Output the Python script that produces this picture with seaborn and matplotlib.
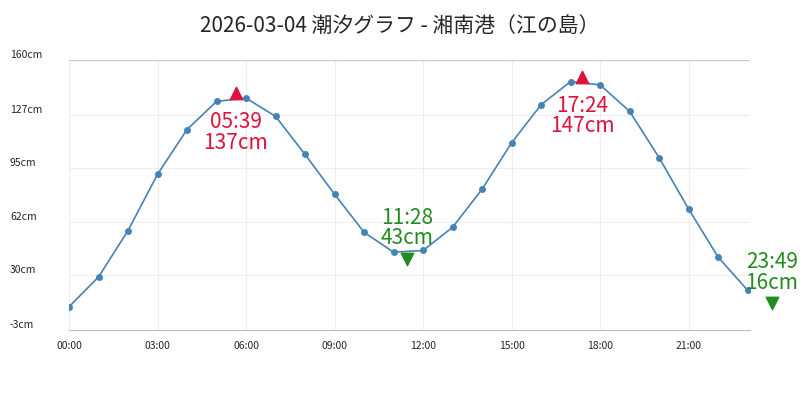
import matplotlib
matplotlib.use("Agg")
import matplotlib.pyplot as plt
import seaborn as sns
import pandas as pd

hours = list(range(24))
heights = [11, 29, 57, 91, 118, 135, 137, 126, 103, 79, 56, 44, 45, 59, 82, 110, 133, 147, 145, 129, 101, 70, 41, 21]
highs_t = [5 + 39/60, 17 + 24/60]
highs_v = [137, 147]
highs_lbl = ["05:39\n137cm", "17:24\n147cm"]
lows_t = [11 + 28/60, 23 + 49/60]
lows_v = [43, 16]
lows_lbl = ["11:28\n43cm", "23:49\n16cm"]
yticks = [-3, 30, 62, 95, 127, 160]
xticks = [0, 3, 6, 9, 12, 15, 18, 21]
xlabels = ["00:00", "03:00", "06:00", "09:00", "12:00", "15:00", "18:00", "21:00"]
title = "2026-03-04 潮汐グラフ - 湘南港（江の島）"

sns.set_style("white")
plt.rcParams['font.family'] = ['Noto Sans CJK JP', 'DejaVu Sans']

fig = plt.figure(figsize=(8, 4), dpi=100)
ax = fig.add_axes([69/800, 70/400, 681/800, 270/400])
df = pd.DataFrame({"h": hours, "v": heights})
sns.lineplot(data=df, x="h", y="v", ax=ax, color="#4682b4", linewidth=1.2,
             marker="o", markersize=5, markeredgewidth=0, zorder=3)

ax.scatter(highs_t, [v + 3 for v in highs_v], marker="^", s=80, color="#dc143c", zorder=4, clip_on=False)
ax.scatter(lows_t, [v - 3 for v in lows_v], marker="v", s=80, color="#228b22", zorder=4, clip_on=False)
for t, v, l in zip(highs_t, highs_v, highs_lbl):
    ax.text(t, v - 8, l, color="#dc143c", fontsize=15, ha="center", va="top", linespacing=0.9)
for t, v, l in zip(lows_t, lows_v, lows_lbl):
    ax.text(t, v + 3, l, color="#228b22", fontsize=15, ha="center", va="bottom", linespacing=0.9, clip_on=False)

ax.set_xlim(0, 23.08)
ax.set_ylim(-3, 160)
ax.set_xticks(xticks)
ax.set_xticklabels(xlabels, fontsize=7.5)
ax.set_yticks(yticks)
ax.set_yticklabels([f"{v}cm" for v in yticks], fontsize=7.5, ha="left", va="bottom")
ax.tick_params(axis="y", length=0, pad=42.5)
ax.tick_params(axis="x", length=0, pad=8)
ax.grid(True, color="#eeeeee", linewidth=0.8)
ax.axhline(160, color="#cccccc", linewidth=1)
for s in ["left", "right", "top"]:
    ax.spines[s].set_visible(False)
ax.spines["bottom"].set_color("#bbbbbb")
ax.set_xlabel("")
ax.set_ylabel("")
fig.text(0.5, 0.935, title, ha="center", va="center", fontsize=15)
fig.savefig("out.png", dpi=100)
